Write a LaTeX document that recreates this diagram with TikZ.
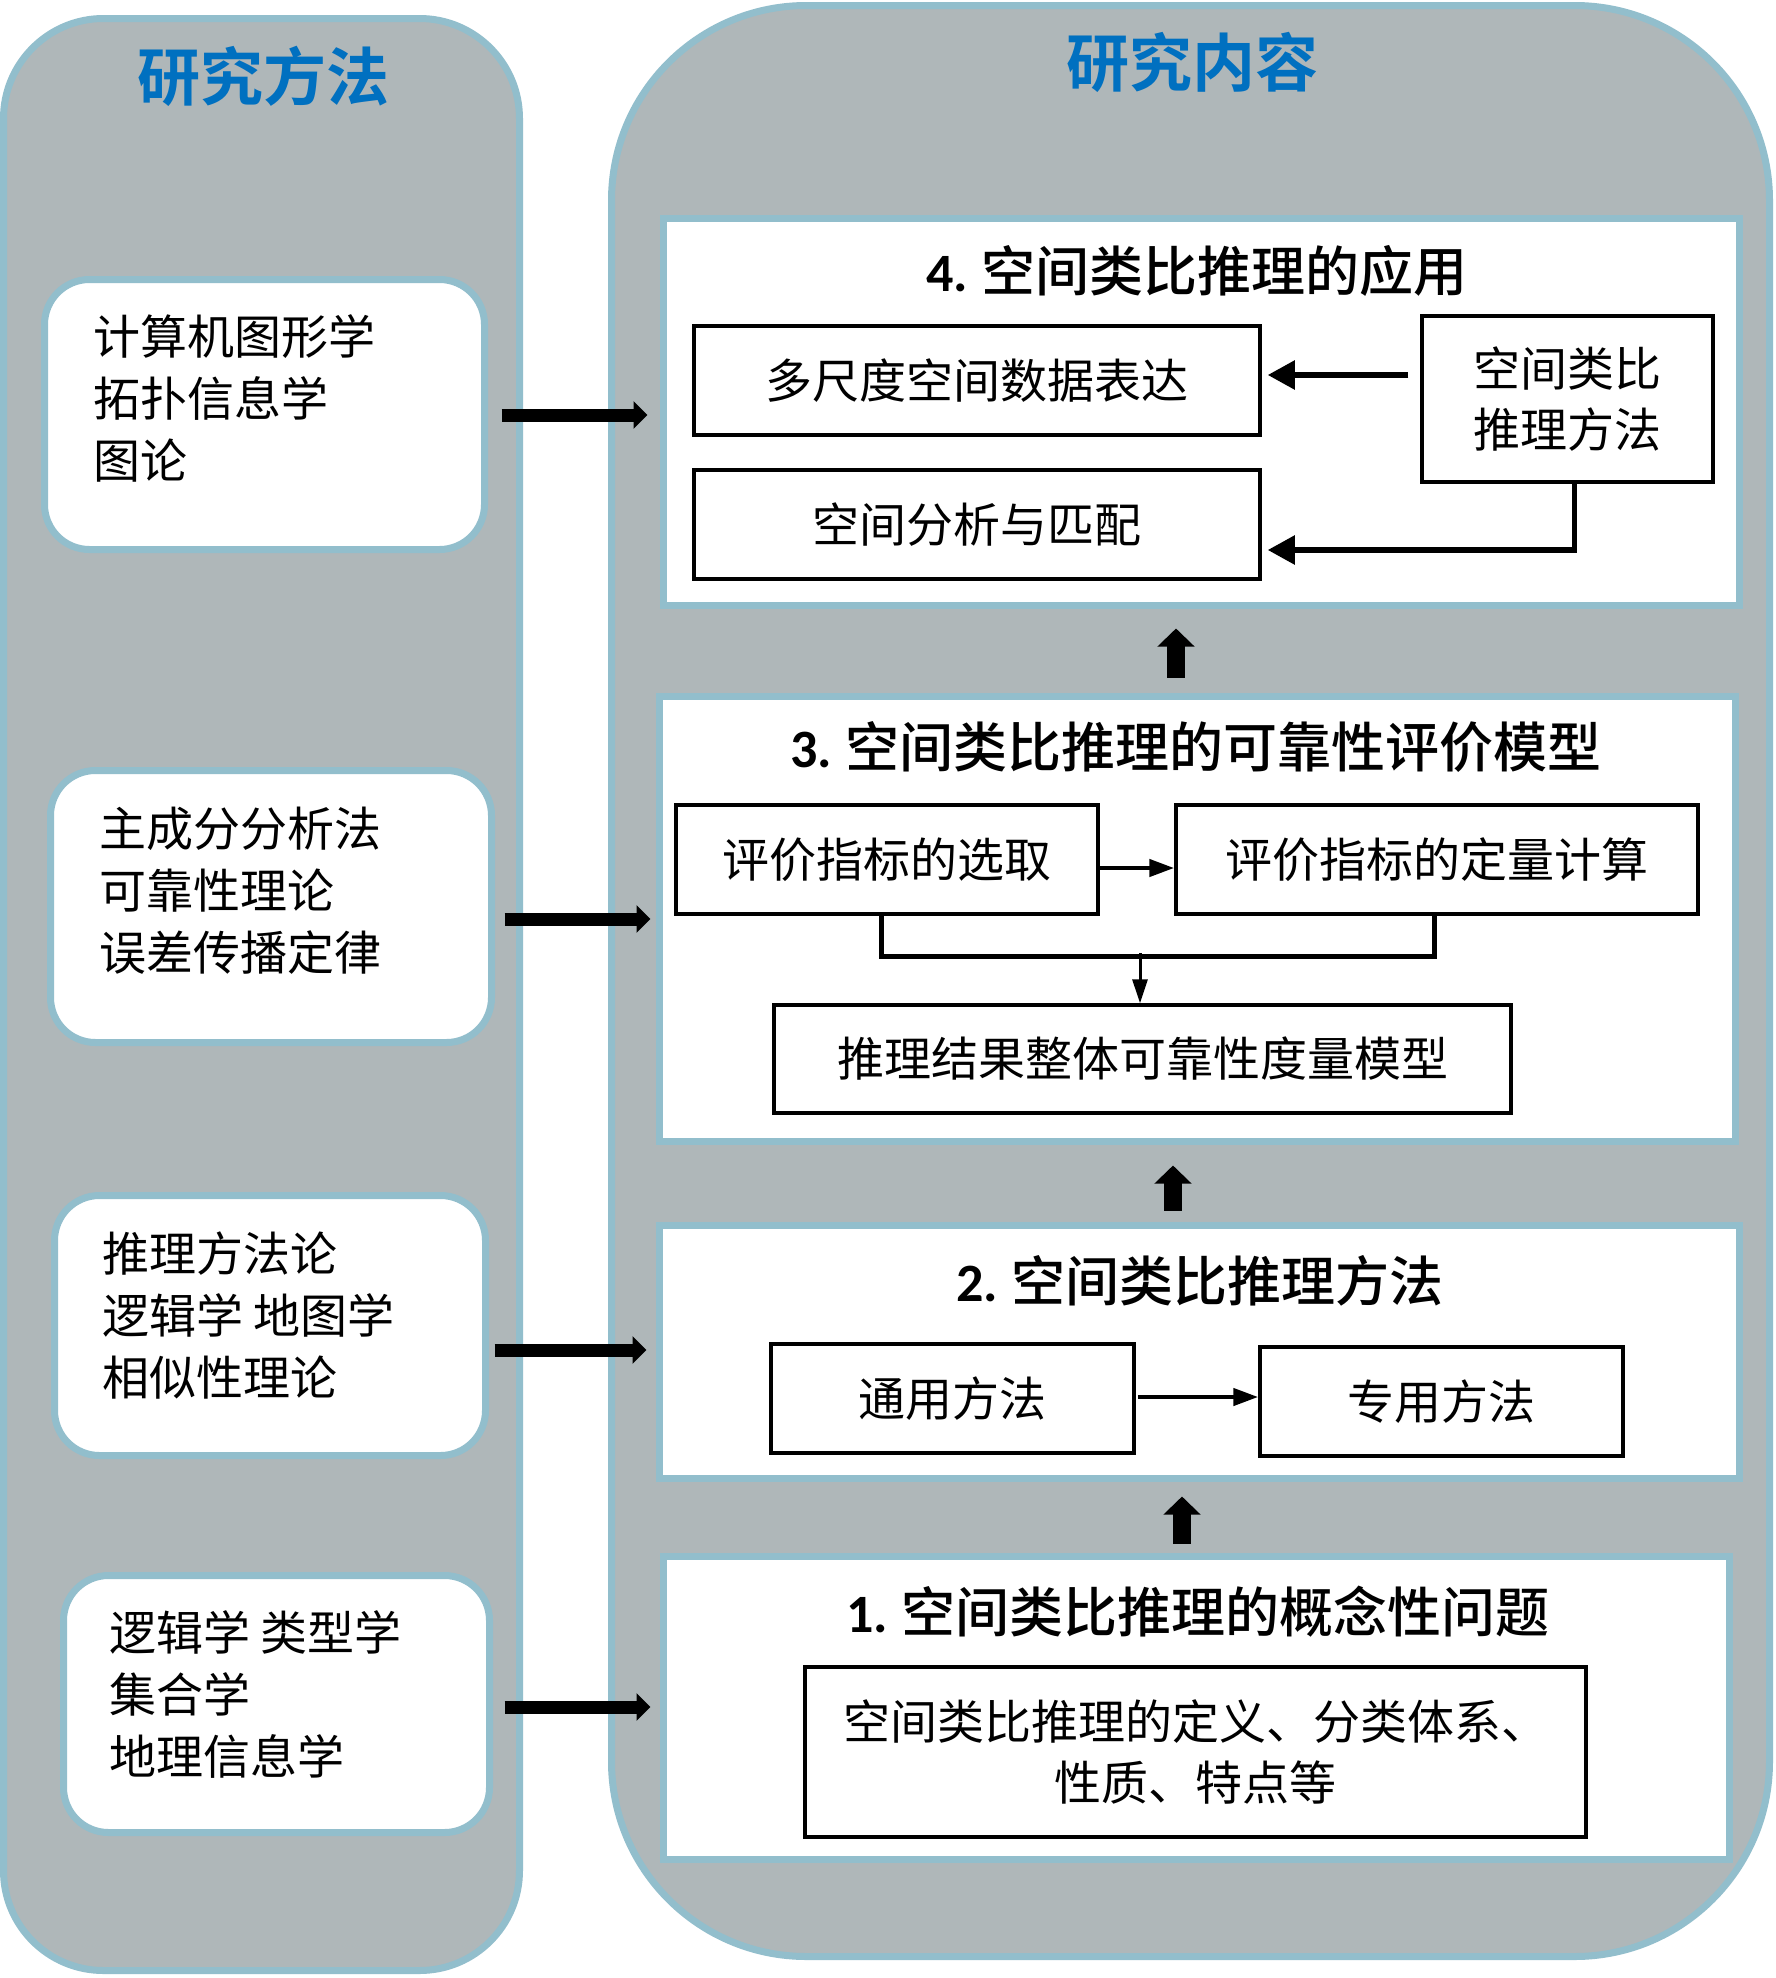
\documentclass[tikz,border=0pt]{standalone}
\usepackage{fontspec}
\usetikzlibrary{arrows.meta,calc}
\newfontfamily\song{Noto Sans CJK SC}
\newfontfamily\hei{Noto Sans CJK SC}[BoldFont={Noto Sans CJK SC Bold}]
\IfFontExistsTF{Noto Sans CJK SC Medium}
 {\newfontfamily\heim{Noto Sans CJK SC Medium}}
 {\newfontfamily\heim{Noto Sans CJK SC}}
\newfontfamily\calib{Carlito}
\definecolor{panelgray}{RGB}{175,183,185}
\definecolor{lblue}{RGB}{146,190,204}
\definecolor{hblue}{RGB}{0,112,192}
\newcommand{\ttl}[2]{{\calib\bfseries #1}\hspace{13pt}{\heim #2}}
\tikzset{
  panel/.style={draw=lblue, line width=7pt, fill=panelgray, inner sep=0pt},
  methodbox/.style={draw=lblue, line width=7pt, fill=white, rounded corners=45pt, inner sep=0pt},
  methodtext/.style={font=\song\fontsize{47pt}{62pt}\selectfont, align=left, anchor=west, inner sep=0pt},
  topicbox/.style={draw=lblue, line width=7pt, fill=white, inner sep=0pt},
  topictitle/.style={font=\fontsize{54pt}{60pt}\selectfont, inner sep=0pt},
  itembox/.style={draw=black, line width=3.5pt, fill=white, inner sep=0pt, align=center,
    font=\song\fontsize{47pt}{61pt}\selectfont},
  header/.style={font=\hei\bfseries\fontsize{63pt}{70pt}\selectfont, text=hblue, inner sep=0pt},
  blockarr/.style={line width=13pt, -{Triangle[length=14pt,width=27pt]}},
  uparr/.style={line width=18pt, -{Triangle[length=18pt,width=36pt]}},
  midarr/.style={line width=5.5pt, -{Triangle[length=27pt,width=28pt]}},
  smallarr/.style={line width=4.5pt, -{Triangle[length=25pt,width=17pt]}},
  thinarr/.style={line width=3pt, -{Triangle[length=24pt,width=15pt]}},
  elbow/.style={line width=5pt}
}
\begin{document}
\begin{tikzpicture}[x=1pt,y=-1pt]
\useasboundingbox[fill=white] (0,0) rectangle (1775,1978);
% panels
\node[panel, rounded corners=100pt, minimum width=516pt, minimum height=1952pt] (LP) at (261.5,994.5) {};
\node[panel, rounded corners=195pt, minimum width=1158pt, minimum height=1951pt] (RP) at (1190.5,981) {};
\node[header] (H1) at (263,76) {研究方法};
\node[header] (H2) at (1192,62) {研究内容};
% method boxes
\node[methodbox, minimum width=440pt, minimum height=270pt] (L1) at (264.5,414.5) {};
\node[methodbox, minimum width=441pt, minimum height=272pt] (L2) at (271,906.5) {};
\node[methodbox, minimum width=431pt, minimum height=260pt] (L3) at (270,1325.5) {};
\node[methodbox, minimum width=426pt, minimum height=257pt] (L4) at (276.5,1704) {};
\node[methodtext] (L1t) at (93,398) {计算机图形学\\拓扑信息学\\图论};
\node[methodtext] (L2t) at (99,890.5) {主成分分析法\\可靠性理论\\误差传播定律};
\node[methodtext] (L3t) at (102,1315) {推理方法论\\逻辑学 地图学\\相似性理论};
\node[methodtext] (L4t) at (109,1694) {逻辑学 类型学\\集合学\\地理信息学};
% topic boxes
\node[topicbox, minimum width=1076pt, minimum height=387pt] (B4) at (1201.5,412) {};
\node[topicbox, minimum width=1076pt, minimum height=445pt] (B3) at (1197.5,919) {};
\node[topicbox, minimum width=1080pt, minimum height=253pt] (B2) at (1199.5,1352) {};
\node[topicbox, minimum width=1066pt, minimum height=303pt] (B1) at (1196.5,1708) {};
\node[topictitle] (T4) at (1197,271) {\ttl{4.}{空间类比推理的应用}};
\node[topictitle] (T3) at (1196,747) {\ttl{3.}{空间类比推理的可靠性评价模型}};
\node[topictitle] (T2) at (1200,1281) {\ttl{2.}{空间类比推理方法}};
\node[topictitle] (T1) at (1198,1612) {\ttl{1.}{空间类比推理的概念性问题}};
% items
\node[itembox, minimum width=566pt, minimum height=109pt] (m1) at (977,380.5) {多尺度空间数据表达};
\node[itembox, minimum width=566pt, minimum height=109pt] (m2) at (977,524.5) {空间分析与匹配};
\node[itembox, minimum width=291pt, minimum height=166pt] (m3) at (1567.5,399) {空间类比\\推理方法};
\node[itembox, minimum width=422pt, minimum height=109pt] (e1) at (887,859.5) {评价指标的选取};
\node[itembox, minimum width=522pt, minimum height=109pt] (e2) at (1437,859.5) {评价指标的定量计算};
\node[itembox, minimum width=737pt, minimum height=108pt] (e3) at (1142.5,1059) {推理结果整体可靠性度量模型};
\node[itembox, minimum width=363pt, minimum height=109pt] (g1) at (952.5,1398.5) {通用方法};
\node[itembox, minimum width=363pt, minimum height=109pt] (g2) at (1441.5,1401.5) {专用方法};
\node[itembox, minimum width=781pt, minimum height=170pt] (c1) at (1195.5,1752) {空间类比推理的定义、分类体系、\\性质、特点等};
% block arrows method -> topic
\draw[blockarr] ($(L1.east)+(13.5,0.5)$) -- ($(L1.east -| B4.west)+(-12.5,0.5)$);
\draw[blockarr] ($(L2.east)+(9.5,12.5)$) -- ($(L2.east -| B3.west)+(-5.5,12.5)$);
\draw[blockarr] ($(L3.east)+(5.5,24.5)$) -- ($(L3.east -| B2.west)+(-9.5,24.5)$);
\draw[blockarr] ($(L4.east)+(11.5,3)$) -- ($(L4.east -| B1.west)+(-9.5,3)$);
% up arrows between topics
\draw[uparr] ($(B3.north)+(-21.5,-15.5)$) -- ($(B4.south)+(-25.5,19.5)$);
\draw[uparr] ($(B2.north)+(-26.5,-11.5)$) -- ($(B3.south)+(-24.5,20.5)$);
\draw[uparr] ($(B1.north)+(-14.5,-9.5)$) -- ($(B2.south)+(-17.5,14.5)$);
% inner connectors
\draw[midarr] ($(m3.west |- m1.east)+(-12,-5.5)$) -- ($(m1.east)+(6,-5.5)$);
\draw[midarr] ($(m3.south)+(7,0)$) |- ($(m2.east)+(6,25.5)$);
\draw[smallarr] ($(e1.east)+(0,8.5)$) -- ($(e2.west)+(0,8.5)$);
\draw[elbow] ($(e1.south)+(-6,0)$) |- ($(e2.south)+(-3,41)$) -- ($(e2.south)+(-3,0)$);
\draw[thinarr] ($(e3.north)+(-2.5,-50)$) -- ($(e3.north)+(-2.5,0)$);
\draw[smallarr] ($(g1.east)+(2,-1.5)$) -- ($(g2.west)+(0,-4.5)$);
\end{tikzpicture}
\end{document}
